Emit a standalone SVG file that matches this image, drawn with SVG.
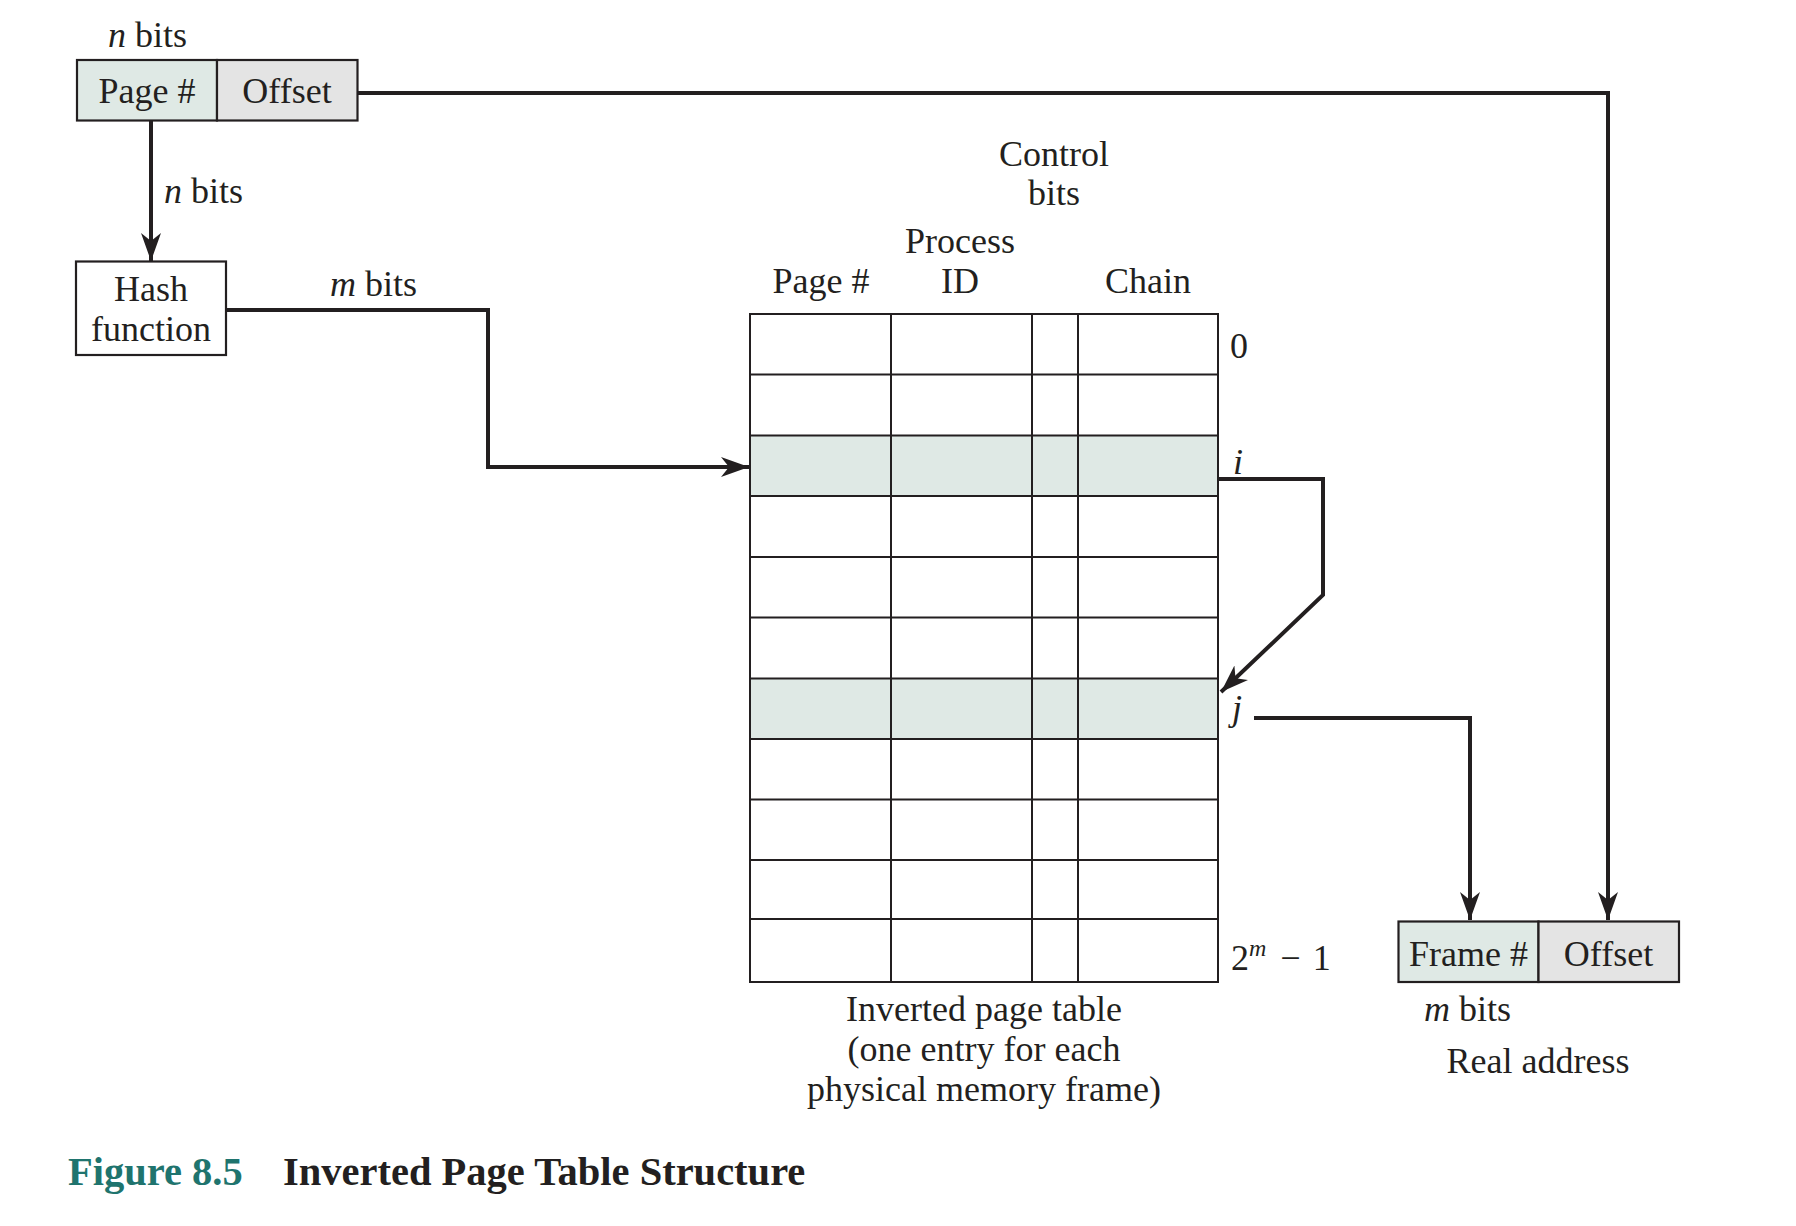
<svg xmlns="http://www.w3.org/2000/svg" width="1796" height="1226" viewBox="0 0 1796 1226">
<style>
text{font-family:"Liberation Serif","Times New Roman",serif;font-size:36px;fill:#231f20}
.c{text-anchor:middle}
.it{font-style:italic}
.box{stroke:#231f20;stroke-width:2.2}
.grid{stroke:#231f20;stroke-width:2;fill:none}
.conn{stroke:#231f20;stroke-width:4;fill:none}
.teal{fill:#dfe9e5}
.gray{fill:#e4e4e4}
.cap{font-weight:bold;font-size:40.5px}
</style>
<defs>
<marker id="ah" markerUnits="userSpaceOnUse" markerWidth="32" markerHeight="22" refX="28" refY="10" orient="auto" viewBox="0 0 32 22">
<path d="M0,0 L28,10 L0,20 L8,10 Z" fill="#231f20"/>
</marker>
</defs>
<rect width="1796" height="1226" fill="#fff"/>

<g id="virtual-address">
<rect class="box teal" x="77" y="60" width="140" height="60.5"/>
<rect class="box gray" x="217" y="60" width="140.5" height="60.5"/>
<text class="c" x="147" y="103">Page #</text>
<text class="c" x="287" y="103">Offset</text>
<text x="108" y="47"><tspan class="it">n</tspan> bits</text>
</g>

<g id="hash-function">
<rect class="box" x="76" y="261.5" width="150" height="93.5" fill="#fff"/>
<text class="c" x="151" y="301">Hash</text>
<text class="c" x="151" y="341">function</text>
</g>

<g id="page-table">
<rect class="teal" x="750" y="435.5" width="468" height="60.5"/>
<rect class="teal" x="750" y="678.5" width="468" height="60.5"/>
<rect class="grid" x="750" y="314" width="468" height="668"/>
<path class="grid" d="M891,314V982M1032,314V982M1078,314V982M750,374.5H1218M750,435.5H1218M750,496H1218M750,557H1218M750,617.5H1218M750,678.5H1218M750,739H1218M750,799.5H1218M750,860H1218M750,919H1218"/>
<text class="c" x="1054" y="166">Control</text>
<text class="c" x="1054" y="205">bits</text>
<text class="c" x="960" y="253">Process</text>
<text class="c" x="960" y="293">ID</text>
<text class="c" x="821" y="293">Page #</text>
<text class="c" x="1148" y="293">Chain</text>
<text x="1230" y="358">0</text>
<text class="it" x="1233" y="474">i</text>
<text class="it" x="1232" y="720">j</text>
<text x="1231" y="970">2<tspan class="it" font-size="24" dy="-14">m</tspan><tspan dy="14" dx="14">−</tspan><tspan dx="12">1</tspan></text>
<text class="c" x="984" y="1021">Inverted page table</text>
<text class="c" x="984" y="1061">(one entry for each</text>
<text class="c" x="984" y="1101">physical memory frame)</text>
</g>

<g id="real-address">
<rect class="box teal" x="1398.5" y="921.5" width="140" height="60.5"/>
<rect class="box gray" x="1538.5" y="921.5" width="140.5" height="60.5"/>
<text class="c" x="1468.5" y="966">Frame #</text>
<text class="c" x="1608.5" y="966">Offset</text>
<text x="1424" y="1021"><tspan class="it">m</tspan> bits</text>
<text class="c" x="1538" y="1073">Real address</text>
</g>

<g id="labels">
<text x="164" y="203"><tspan class="it">n</tspan> bits</text>
<text x="330" y="296"><tspan class="it">m</tspan> bits</text>
</g>

<g id="connectors">
<path class="conn" d="M151,121V261" marker-end="url(#ah)"/>
<path class="conn" d="M357.5,93H1608V920" marker-end="url(#ah)"/>
<path class="conn" d="M226,310H488V467H749" marker-end="url(#ah)"/>
<path class="conn" d="M1218,479H1323V595L1221,692" marker-end="url(#ah)"/>
<path class="conn" d="M1254,718H1470V920" marker-end="url(#ah)"/>
</g>

<g id="caption">
<text class="cap" x="68" y="1185" style="fill:#1f746e">Figure 8.5</text>
<text class="cap" x="283" y="1185">Inverted Page Table Structure</text>
</g>
</svg>
